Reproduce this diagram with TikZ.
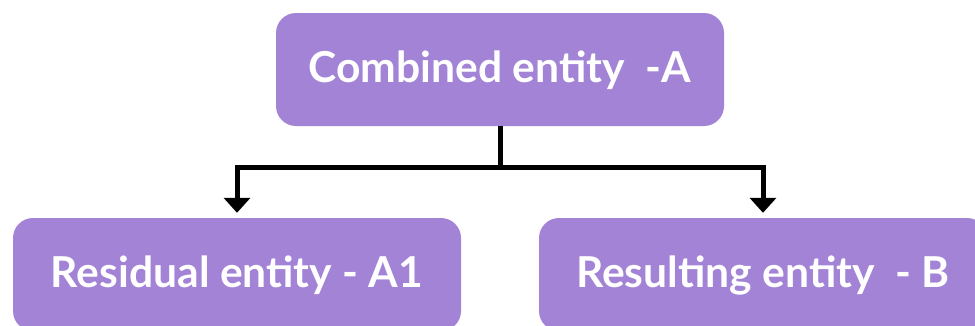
\documentclass[tikz,border=0pt]{standalone}
\usepackage{fontspec}
\setmainfont{Lato}[UprightFont=* Bold]
\usetikzlibrary{arrows.meta}
\definecolor{boxpurple}{HTML}{A283D6}
\tikzset{
  entity/.style={fill=boxpurple, rounded corners=20pt, minimum width=448pt,
    minimum height=113pt, inner sep=0pt, text=white,
    font=\fontsize{42.6}{50}\selectfont, text height=30pt, text depth=5pt},
  link/.style={line width=5pt, line join=miter},
  linkarrow/.style={link, -{Triangle[width=26pt,length=15pt]}, shorten >=5pt}
}
\begin{document}
\begin{tikzpicture}[x=1pt, y=-1pt]
  \useasboundingbox (0,0) rectangle (975,325);
  \clip (0,0) rectangle (975,325);
  \node[entity] (combined) at (500,69.5) {Combined entity \ -A};
  \node[entity] (residual) at (237,274.5) {Residual entity - A1};
  \node[entity] (resulting) at (763,274.5) {Resulting entity \ - B};
  \coordinate (split) at (combined.south |- 0,167.5);
  \draw[link] (combined.south) -- (split);
  \draw[linkarrow] (split) -| (residual.north);
  \draw[linkarrow] (split) -| (resulting.north);
\end{tikzpicture}
\end{document}
